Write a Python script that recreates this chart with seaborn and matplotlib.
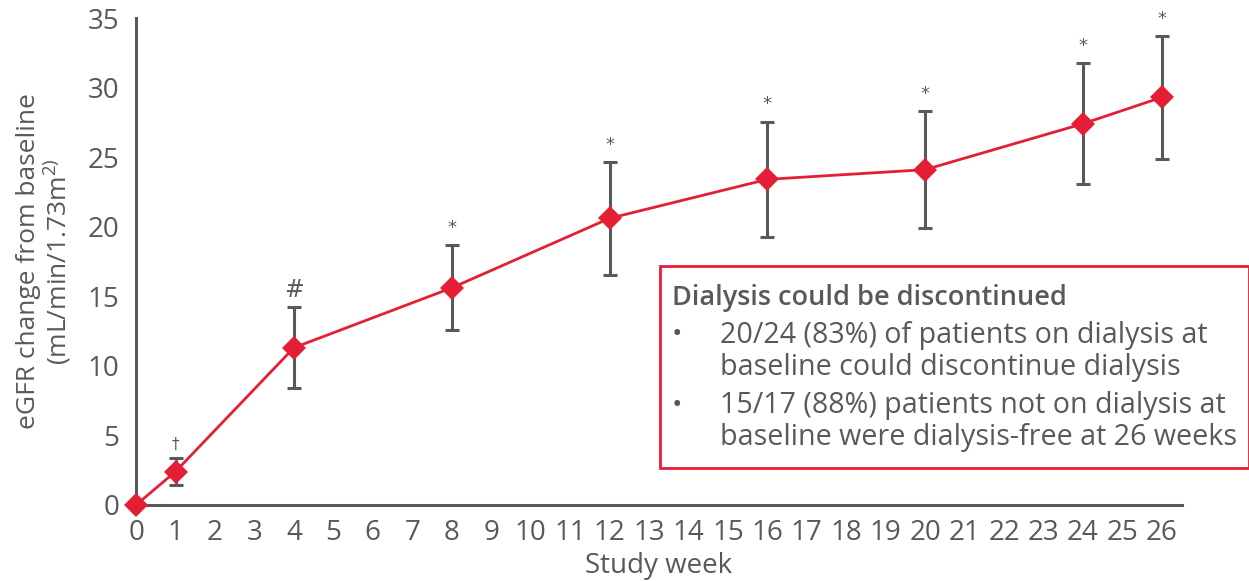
import matplotlib
matplotlib.use("Agg")
import matplotlib.pyplot as plt
import seaborn as sns
import pandas as pd
from matplotlib.patches import Rectangle

weeks = [0, 1, 4, 8, 12, 16, 20, 24, 26]
egfr_change = [0.0, 2.4, 11.3, 15.6, 20.6, 23.4, 24.1, 27.4, 29.3]
err = [0.0, 1.0, 2.9, 3.05, 4.05, 4.15, 4.2, 4.33, 4.4]
sig_marks = ["", "†", "#", "*", "*", "*", "*", "*", "*"]
xticks = list(range(0, 27))
yticks = [0, 5, 10, 15, 20, 25, 30, 35]

box_title = "Dialysis could be discontinued"
box_lines = [
    "20/24 (83%) of patients on dialysis at",
    "baseline could discontinue dialysis",
    "15/17 (88%) patients not on dialysis at",
    "baseline were dialysis-free at 26 weeks",
]

RED = "#E31E35"
GREY = "#58595B"

sns.set_style("white")
plt.rcParams["font.family"] = ["Open Sans", "DejaVu Sans"]
plt.rcParams["mathtext.default"] = "regular"

df = pd.DataFrame({"week": weeks, "egfr": egfr_change, "err": err})

fig = plt.figure(figsize=(12.49, 5.81), dpi=100)
ax = fig.add_axes([0.109, 0.131, 0.837, 0.838])

ax.errorbar(df["week"], df["egfr"], yerr=df["err"], fmt="none", ecolor=GREY,
            elinewidth=2.2, capsize=5, capthick=2.2, zorder=2, clip_on=False)
sns.lineplot(data=df, x="week", y="egfr", ax=ax, color=RED, lw=2,
             marker="D", markersize=12, markeredgewidth=0, zorder=3, clip_on=False)

for w, v, e, s in zip(weeks, egfr_change, err, sig_marks):
    if s:
        ax.annotate(s, (w, v + e), xytext=(0, 6 if s == "*" else 4), textcoords="offset points",
                    ha="center", va="bottom", color=GREY,
                    fontsize=13 if s == "*" else (17 if s == "#" else 11),
                    family=["DejaVu Sans"])

ax.set_xlim(0, 26.5)
ax.set_ylim(0, 35)
ax.set_xticks(xticks)
ax.set_yticks(yticks)
ax.tick_params(axis="both", colors=GREY, labelsize=20, length=7, width=2, direction="out",
               labelcolor=GREY)
ax.tick_params(axis="x", pad=3)
ax.tick_params(axis="y", pad=5)
for side in ["top", "right"]:
    ax.spines[side].set_visible(False)
for side in ["left", "bottom"]:
    ax.spines[side].set_color(GREY)
    ax.spines[side].set_linewidth(2.2)

ax.set_xlabel("Study week", fontsize=20, color=GREY, labelpad=4)
ax.set_ylabel("eGFR change from baseline\n(mL/min/1.73m$^{2)}$", fontsize=19, color=GREY,
              labelpad=10, linespacing=1.05)

# annotation box
rect = Rectangle((660 / 1249, 1 - 468 / 581), (1249 - 660) / 1249, (468 - 266) / 581,
                 transform=fig.transFigure, fill=True, facecolor="white",
                 edgecolor=RED, lw=2, zorder=5)
fig.patches.append(rect)
fig.text(672 / 1249, 1 - 298 / 581, box_title, fontsize=19.5, color=GREY, weight="semibold",
         va="center", ha="left", zorder=6)
line_y = [335, 367, 406, 437]
for i, (y, t) in enumerate(zip(line_y, box_lines)):
    if i % 2 == 0:
        fig.text(672 / 1249, 1 - y / 581, "•", fontsize=20, color=GREY, va="center",
                 ha="left", zorder=6)
    fig.text(720 / 1249, 1 - y / 581, t, fontsize=20.6, color=GREY, va="center", ha="left",
             zorder=6)

fig.savefig("out.png", dpi=100)
